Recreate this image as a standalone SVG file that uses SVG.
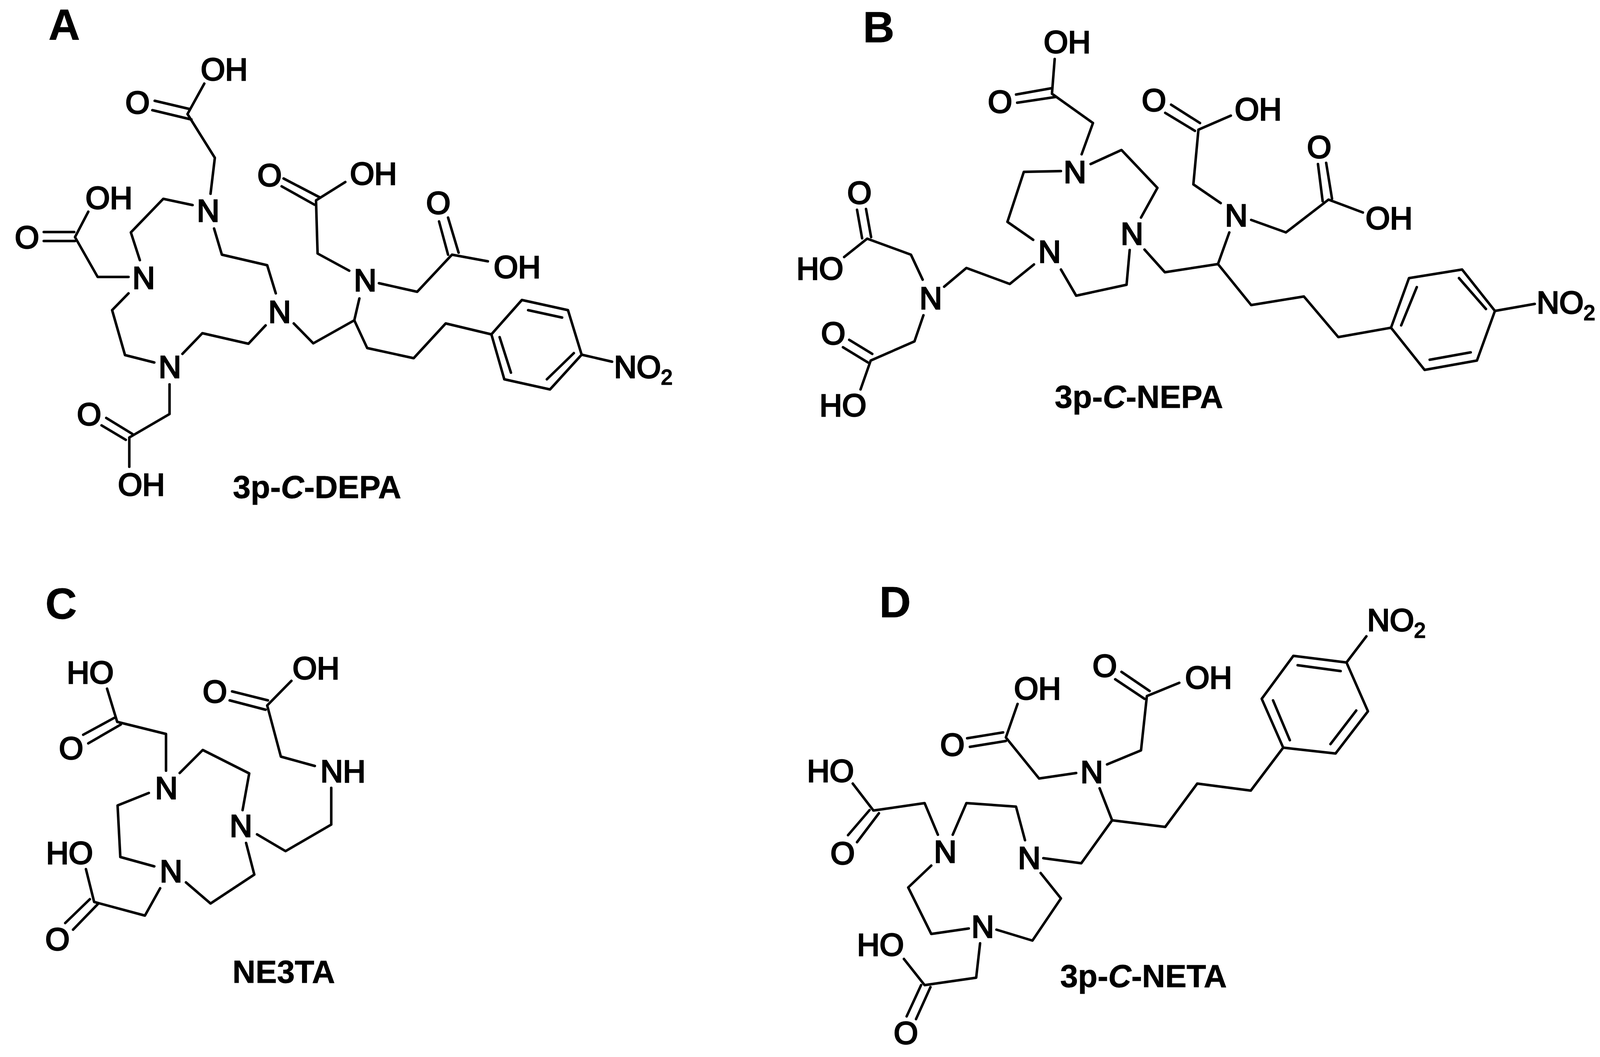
<svg xmlns="http://www.w3.org/2000/svg" width="4124" height="2706" viewBox="0 0 4124 2706">
<style>
text{font-family:"Liberation Sans",Arial,sans-serif;fill:#000}
.bonds polyline{fill:none;stroke:#000;stroke-width:6.5;stroke-linejoin:round;stroke-linecap:round}
.a{font-size:80px;text-anchor:middle;stroke:#000;stroke-width:3.5}
.n{font-size:80px;stroke:#000;stroke-width:3.5}
.s{font-size:53px;stroke-width:3}
.t{font-size:82px;font-weight:bold;stroke:#000;stroke-width:0.8}
.p{font-size:112px;font-weight:bold;stroke:#000;stroke-width:0.8}
.i{font-style:italic}
</style>
<rect width="4124" height="2706" fill="#fff"/>
<g id="molecule-a">
<text class="p" x="124" y="102">A</text>
<g class="bonds" id="bonds-a">
<polyline points="523,214 480,292 550,404 539,496"/>
<polyline points="396,258 485,279"/>
<polyline points="390,282 490,306"/>
<polyline points="329,709 250,709 192,607 226,542"/>
<polyline points="112,594 190,594"/>
<polyline points="112,617 192,617"/>
<polyline points="493,525 418,509 335,595 358,666"/>
<polyline points="548,585 568,652 684,679 706,751"/>
<polyline points="680,833 636,880 518,853 467,906"/>
<polyline points="395,928 320,909 287,794 329,751"/>
<polyline points="434,984 434,1060 331,1120 331,1195"/>
<polyline points="260,1089 322,1126"/>
<polyline points="272,1070 339,1111"/>
<polyline points="752,828 802,879 907,820 940,891 1059,917 1141,828 1258,856"/>
<polyline points="1258,856 1336,768 1454,794 1489,908 1408,997 1291,971 1258,856"/>
<polyline points="1352,794 1439,813"/>
<polyline points="1469,904 1400,971"/>
<polyline points="1279,863 1308,954"/>
<polyline points="1489,908 1567,926"/>
<polyline points="920,764 907,820"/>
<polyline points="894,693 813,649 809,513 884,466"/>
<polyline points="726,457 818,505"/>
<polyline points="721,477 805,524"/>
<polyline points="970,725 1068,747 1157,652 1249,669"/>
<polyline points="1124,567 1147,652"/>
<polyline points="1147,557 1174,647"/>
</g>
<text class="a" x="574" y="205">OH</text>
<text class="a" x="352" y="290">O</text>
<text class="a" x="279" y="534">OH</text>
<text class="a" x="69" y="635">O</text>
<text class="a" x="533" y="567">N</text>
<text class="a" x="368" y="739">N</text>
<text class="a" x="716" y="826">N</text>
<text class="a" x="435" y="967">N</text>
<text class="a" x="228" y="1088">O</text>
<text class="a" x="362" y="1268">OH</text>
<text class="a" x="935" y="745">N</text>
<text class="a" x="690" y="476">O</text>
<text class="a" x="956" y="472">OH</text>
<text class="a" x="1122" y="547">O</text>
<text class="a" x="1324" y="711">OH</text>
<text class="n" x="1572" y="967">NO<tspan class="s" dy="17">2</tspan></text>
<text class="t" x="596" y="1275">3p-<tspan class="i">C</tspan>-DEPA</text>
</g>
<g id="molecule-b">
<text class="p" x="2209" y="108">B</text>
<g class="bonds" id="bonds-b">
<polyline points="2769,395 2798,315 2693,240 2700,151"/>
<polyline points="2601,242 2691,226"/>
<polyline points="2604,263 2704,248"/>
<polyline points="2716,438 2621,440 2579,568 2645,614"/>
<polyline points="2792,420 2871,384 2963,481 2921,557"/>
<polyline points="2716,690 2755,757 2884,729 2892,640"/>
<polyline points="2930,639 2982,697 3118,676 3203,781 3338,759 3426,863 3561,839"/>
<polyline points="3561,839 3607,712 3743,690 3827,796 3781,923 3647,947 3561,839"/>
<polyline points="3587,833 3627,735"/>
<polyline points="3735,712 3804,791"/>
<polyline points="3765,902 3660,921"/>
<polyline points="3827,796 3929,778"/>
<polyline points="3147,595 3118,676"/>
<polyline points="3125,520 3055,472 3068,332 3151,296"/>
<polyline points="2998,268 3072,315"/>
<polyline points="2983,289 3059,335"/>
<polyline points="3203,563 3292,595 3401,511 3489,544"/>
<polyline points="3374,420 3386,515"/>
<polyline points="3395,417 3410,509"/>
<polyline points="2647,677 2585,727 2474,686 2417,734"/>
<polyline points="2362,716 2332,652 2220,611 2161,658"/>
<polyline points="2194,537 2207,610"/>
<polyline points="2217,535 2230,607"/>
<polyline points="2364,807 2341,874 2229,923 2203,997"/>
<polyline points="2174,870 2233,906"/>
<polyline points="2158,889 2222,928"/>
</g>
<text class="a" x="2732" y="135">OH</text>
<text class="a" x="2560" y="288">O</text>
<text class="a" x="2752" y="468">N</text>
<text class="a" x="2687" y="672">N</text>
<text class="a" x="2898" y="626">N</text>
<text class="a" x="3165" y="579">N</text>
<text class="a" x="2954" y="284">O</text>
<text class="a" x="3221" y="307">OH</text>
<text class="a" x="3377" y="404">O</text>
<text class="a" x="3556" y="586">OH</text>
<text class="n" x="3934" y="802">NO<tspan class="s" dy="17">2</tspan></text>
<text class="a" x="2383" y="791">N</text>
<text class="a" x="2200" y="521">O</text>
<text class="a" x="2099" y="715">HO</text>
<text class="a" x="2133" y="881">O</text>
<text class="a" x="2158" y="1065">HO</text>
<text class="t" x="2700" y="1044">3p-<tspan class="i">C</tspan>-NEPA</text>
</g>
<g id="molecule-c">
<text class="p" x="116" y="1584">C</text>
<g class="bonds" id="bonds-c">
<polyline points="425,1973 425,1879 300,1848 274,1763"/>
<polyline points="292,1838 213,1881"/>
<polyline points="309,1855 226,1903"/>
<polyline points="460,1979 519,1920 638,1980 621,2074"/>
<polyline points="381,2030 301,2062 308,2194 395,2218"/>
<polyline points="476,2259 539,2313 651,2239 630,2158"/>
<polyline points="410,2274 371,2344 241,2309 220,2225"/>
<polyline points="230,2302 167,2363"/>
<polyline points="250,2315 187,2380"/>
<polyline points="658,2136 731,2179 848,2111 848,2017"/>
<polyline points="806,1961 719,1937 684,1806 746,1743"/>
<polyline points="594,1770 686,1793"/>
<polyline points="588,1793 680,1817"/>
</g>
<text class="a" x="231" y="1749">HO</text>
<text class="a" x="182" y="1943">O</text>
<text class="a" x="426" y="2045">N</text>
<text class="a" x="617" y="2142">N</text>
<text class="a" x="438" y="2258">N</text>
<text class="a" x="178" y="2211">HO</text>
<text class="a" x="147" y="2432">O</text>
<text class="a" x="878" y="2002">NH</text>
<text class="a" x="550" y="1798">O</text>
<text class="a" x="809" y="1738">OH</text>
<text class="t" x="595" y="2516">NE3TA</text>
</g>
<g id="molecule-d">
<text class="p" x="2251" y="1580">D</text>
<g class="bonds" id="bonds-d">
<polyline points="2815,2018 2847,2100"/>
<polyline points="2755,1979 2660,1993 2575,1888 2605,1802"/>
<polyline points="2476,1890 2568,1875"/>
<polyline points="2483,1912 2575,1897"/>
<polyline points="2834,1957 2921,1921 2936,1782 3019,1748"/>
<polyline points="2871,1720 2943,1769"/>
<polyline points="2855,1739 2930,1789"/>
<polyline points="2847,2100 2983,2117 3065,2006 3202,2024 3285,1914"/>
<polyline points="3285,1914 3230,1789 3311,1679 3447,1696 3502,1821 3419,1929 3285,1914"/>
<polyline points="3259,1793 3302,1895"/>
<polyline points="3322,1703 3432,1718"/>
<polyline points="3472,1819 3406,1905"/>
<polyline points="3447,1696 3498,1629"/>
<polyline points="2847,2100 2768,2210 2671,2197"/>
<polyline points="2624,2151 2601,2065 2474,2056 2439,2137"/>
<polyline points="2401,2137 2367,2056 2236,2075 2183,2006"/>
<polyline points="2226,2074 2171,2138"/>
<polyline points="2250,2082 2194,2156"/>
<polyline points="2384,2216 2325,2272 2384,2391 2480,2377"/>
<polyline points="2664,2235 2716,2300 2643,2408 2551,2380"/>
<polyline points="2509,2415 2499,2503 2367,2522 2314,2455"/>
<polyline points="2358,2522 2321,2602"/>
<polyline points="2382,2527 2345,2609"/>
</g>
<text class="a" x="2795" y="2004">N</text>
<text class="a" x="2656" y="1790">OH</text>
<text class="a" x="2438" y="1934">O</text>
<text class="a" x="2828" y="1732">O</text>
<text class="a" x="3094" y="1762">OH</text>
<text class="n" x="3500" y="1615">NO<tspan class="s" dy="17">2</tspan></text>
<text class="a" x="2635" y="2224">N</text>
<text class="a" x="2420" y="2208">N</text>
<text class="a" x="2126" y="2001">HO</text>
<text class="a" x="2157" y="2212">O</text>
<text class="a" x="2516" y="2400">N</text>
<text class="a" x="2254" y="2446">HO</text>
<text class="a" x="2319" y="2672">O</text>
<text class="t" x="2714" y="2527">3p-<tspan class="i">C</tspan>-NETA</text>
</g>
</svg>
